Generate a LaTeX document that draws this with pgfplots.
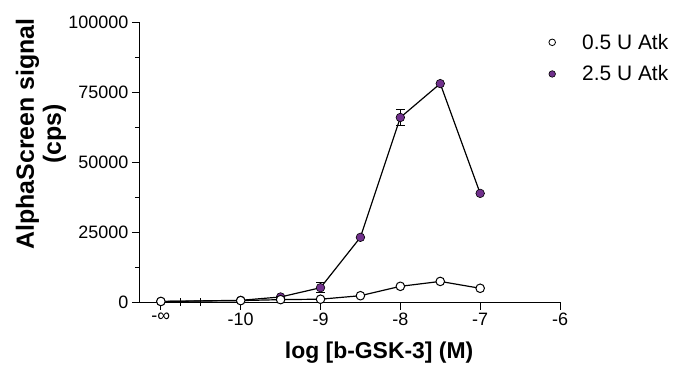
\documentclass[border=0pt]{standalone}
\usepackage{pgfplots}
\pgfplotsset{compat=1.18}
\usepackage{fontspec}
\setmainfont{Liberation Sans}
\definecolor{atkpurple}{RGB}{112,48,140}
\begin{document}
\begin{tikzpicture}
\useasboundingbox (0,0) rectangle (678bp,-372bp);
\begin{axis}[
  at={(139.3bp,-302bp)}, anchor=south west,
  scale only axis, width=420.7bp, height=280bp,
  xmin=-11.27, xmax=-6, ymin=0, ymax=100000,
  axis lines=left, axis line style={-, line width=1pt},
  clip=false,
  tick align=outside,
  major tick length=7.5bp, minor tick length=4.5bp,
  tick style={black, line width=1pt},
  xtick={-11,-10,-9,-8,-7,-6},
  xticklabels={-∞,-10,-9,-8,-7,-6},
  extra x ticks={-10.75,-10.5},
  extra x tick labels={},
  extra x tick style={tick align=center, major tick length=8bp},
  ytick={0,25000,50000,75000,100000},
  minor y tick num=1,
  scaled y ticks=false,
  /pgf/number format/.cd, 1000 sep={}, fixed, assume math mode=true,
  /pgfplots/.cd,
  ticklabel style={font=\fontsize{18}{20}\selectfont},
  ylabel={AlphaScreen signal\\(cps)},
  ylabel style={at={(axis description cs:-0.2337,0.6)}, anchor=center, align=center, font=\bfseries\fontsize{25}{27}\selectfont},
  xlabel={log [b-GSK-3] (M)},
  xlabel style={at={(axis description cs:0.57,-0.179)}, anchor=center, font=\bfseries\fontsize{23}{26}\selectfont},
  legend style={at={(0.9715,0.965)}, anchor=north west, draw=none, fill=none, font=\fontsize{21}{24}\selectfont, row sep=11bp, inner sep=0pt},
  legend cell align=left,
  legend image code/.code={\path[draw=none,fill=none] (-4bp,-4bp) (28bp,4bp); \draw[#1] plot coordinates {(0bp,0bp)};},
]
\addplot[forget plot, black, line width=1.2pt, mark=*, mark size=4.3pt, mark options={fill=atkpurple, draw=black, line width=0.6pt},
  error bars/.cd, y dir=both, y explicit, error bar style={line width=1.2pt}, error mark options={rotate=90, mark size=4.5pt, line width=1.2pt}]
  coordinates {
  (-11,200) +- (0,0)
  (-10,600) +- (0,0)
  (-9.5,1800) +- (0,0)
  (-9,5100) +- (0,1800)
  (-8.5,23100) +- (0,0)
  (-8,65900) +- (0,2800)
  (-7.5,78000) +- (0,0)
  (-7,38800) +- (0,0)
  };
\addplot[forget plot, black, line width=1.2pt, mark=*, mark size=4.3pt, mark options={fill=white, draw=black, line width=1pt}]
  coordinates {
  (-11,200)
  (-10,500)
  (-9.5,850)
  (-9,1000)
  (-8.5,2250)
  (-8,5600)
  (-7.5,7350)
  (-7,4900)
  };
\addlegendimage{only marks, mark=*, mark size=3.3pt, mark options={fill=white, draw=black, line width=0.8pt}}
\addlegendentry{0.5 U Atk}
\addlegendimage{only marks, mark=*, mark size=3.3pt, mark options={fill=atkpurple, draw=black, line width=0.6pt}}
\addlegendentry{2.5 U Atk}
\end{axis}
\end{tikzpicture}
\end{document}
